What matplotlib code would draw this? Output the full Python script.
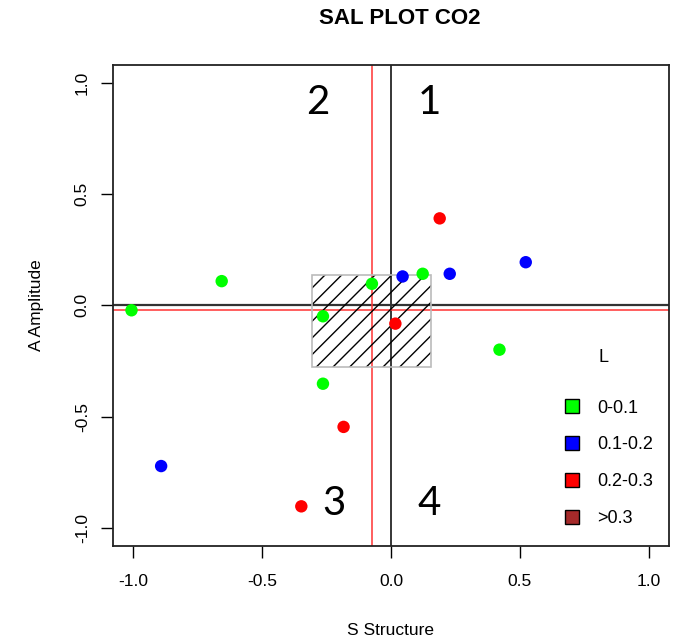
import numpy as np
import matplotlib
matplotlib.use("Agg")
import matplotlib.pyplot as plt
from matplotlib.patches import Rectangle
from matplotlib.lines import Line2D

plt.rcParams['font.family'] = ['Liberation Sans', 'DejaVu Sans']
plt.rcParams['hatch.linewidth'] = 1.0

# Data: S structure, A amplitude, L class
s_vals = [-1.007, -0.657, -0.074, 0.045, 0.123, 0.228, 0.523, 0.189,
          -0.264, 0.017, 0.421, -0.264, -0.184, -0.892, -0.348]
a_vals = [-0.022, 0.109, 0.097, 0.130, 0.142, 0.142, 0.194, 0.391,
          -0.049, -0.082, -0.199, -0.352, -0.546, -0.722, -0.903]
l_class = [0, 0, 0, 1, 0, 1, 1, 2, 0, 2, 0, 0, 2, 1, 2]

class_labels = ["0-0.1", "0.1-0.2", "0.2-0.3", ">0.3"]
class_colors = ["#00FF00", "#0000FF", "#FF0000", "#A52A2A"]
ticks = [-1.0, -0.5, 0.0, 0.5, 1.0]
tick_labels = ["-1.0", "-0.5", "0.0", "0.5", "1.0"]
quadrants = ["1", "2", "3", "4"]
quad_x = [0.149, -0.284, -0.223, 0.149]
quad_y = [0.91, 0.91, -0.891, -0.891]

s = np.array(s_vals)
a = np.array(a_vals)
med_s, med_a = np.median(s), np.median(a)
q1s, q3s = np.percentile(s, [25, 75])
q1a, q3a = np.percentile(a, [25, 75])

fig = plt.figure(figsize=(6.74, 6.44), dpi=100)
ax = fig.add_axes([0.1672, 0.1526, 0.8258, 0.7464])
ax.set_xlim(-1.08, 1.08)
ax.set_ylim(-1.08, 1.08)

# hatched IQR box
ax.add_patch(Rectangle((q1s, q1a), q3s - q1s, q3a - q1a, fill=False,
                       hatch='//', edgecolor='black', linewidth=0, zorder=2))
ax.add_patch(Rectangle((q1s, q1a), q3s - q1s, q3a - q1a, fill=False,
                       edgecolor='#BBBBBB', linewidth=1.2, zorder=2))

ax.axvline(0, color='black', linewidth=1.1, zorder=1)
ax.axhline(0, color='#333333', linewidth=1.6, zorder=1)
ax.axvline(med_s, color='#FF3333', linewidth=1.1, zorder=1)
ax.axhline(med_a, color='#FF3333', linewidth=1.1, zorder=1)

cols = [class_colors[c] for c in l_class]
ax.scatter(s, a, c=cols, s=80, edgecolors='none', zorder=3)

for q, qx, qy in zip(quadrants, quad_x, quad_y):
    ax.text(qx, qy, q, fontsize=29, family=['Lato', 'DejaVu Sans'],
            ha='center', va='center', zorder=4)

ax.set_xticks(ticks)
ax.set_xticklabels(tick_labels)
ax.set_yticks(ticks)
ax.set_yticklabels(tick_labels, rotation=90, va='center')
ax.tick_params(direction='out', length=8.5, width=1.0, labelsize=12.5)
ax.tick_params(axis='x', pad=12)
ax.tick_params(axis='y', pad=8)
for sp in ax.spines.values():
    sp.set_linewidth(1.3)
    sp.set_color('#222222')

ax.set_xlabel("S Structure", fontsize=12.5, labelpad=24)
ax.set_ylabel("A Amplitude", fontsize=12.5, labelpad=22)
fig.text(0.5935, 1 - 18 / 644, "SAL PLOT CO2", fontsize=16, fontweight='bold',
         ha='center', va='center')

handles = [Line2D([0], [0], marker='s', linestyle='none', markersize=10,
                  markerfacecolor=c, markeredgecolor='black', markeredgewidth=1.0)
           for c in class_colors]
leg = ax.legend(handles, class_labels, title="L", loc='upper left',
                bbox_to_anchor=(547 / 674, 1 - 342 / 644),
                bbox_transform=fig.transFigure, frameon=False, fontsize=13,
                title_fontsize=13, labelspacing=1.1, handletextpad=0.4,
                borderaxespad=0)
leg._legend_box.sep = 24

fig.savefig("out.png", dpi=100)
